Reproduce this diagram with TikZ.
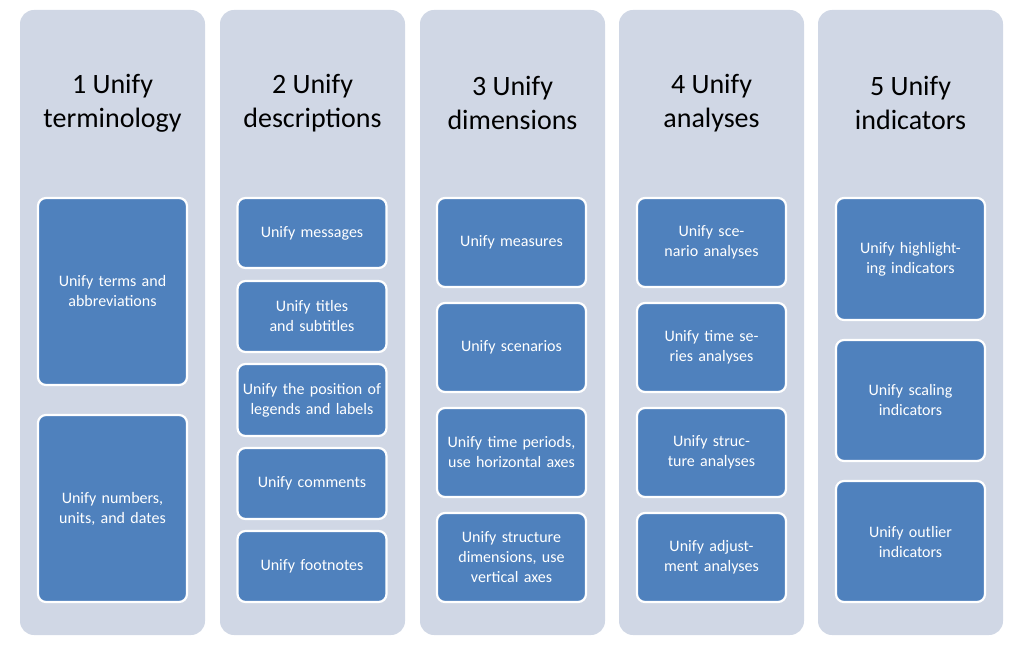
\documentclass[tikz,border=0pt]{standalone}
\usepackage{fontspec}
\setmainfont{Carlito}
\usetikzlibrary{positioning}
\definecolor{colbg}{HTML}{D0D7E5}
\definecolor{boxblue}{HTML}{4F81BD}
\tikzset{
  column/.style={fill=colbg, rounded corners=14pt, minimum width=185pt, minimum height=625pt},
  head/.style={align=center, font=\fontsize{28}{34}\selectfont, text=black},
  item/.style={draw=white, line width=2.2pt, fill=boxblue, rounded corners=8pt, text=white,
    align=center, minimum width=149pt, text width=140pt, font=\fontsize{16}{20}\selectfont}
}
\begin{document}
\begin{tikzpicture}[x=1pt,y=-1pt]
\useasboundingbox (0,0) rectangle (1017,647);
% columns
\foreach \i/\x in {1/112.5, 2/312.5, 3/512.5, 4/711.5, 5/910.5}
  \node (c\i) [column] at (\x,322.5) {};
\node (h1) [head] at (112.5,103) {1 Unify\\terminology};
\node (h2) [head] at (312.5,103) {2 Unify\\descriptions};
\node (h3) [head] at (512.5,103) {3 Unify\\dimensions};
\node (h4) [head] at (711.5,103) {4 Unify\\analyses};
\node (h5) [head] at (910.5,103) {5 Unify\\indicators};
% column 1
\node (a1) [item, minimum height=187pt] at (112.5,291.5) {Unify terms and abbreviations};
\node (a2) [item, minimum height=187pt] at (112.5,508.5) {Unify numbers, units, and dates};
% column 2
\node (b1) [item, minimum height=70pt] at (312,233) {Unify messages};
\node (b2) [item, minimum height=71pt] at (312,316.5) {Unify titles and subtitles};
\node (b3) [item, minimum height=72pt] at (312,400) {Unify the position of legends and labels};
\node (b4) [item, minimum height=71pt] at (312,483.5) {Unify comments};
\node (b5) [item, minimum height=71pt] at (312,566.5) {Unify footnotes};
% column 3
\node (d1) [item, minimum height=89pt] at (511.5,242.5) {Unify measures};
\node (d2) [item, minimum height=89pt] at (511.5,347.5) {Unify scenarios};
\node (d3) [item, minimum height=89pt] at (511.5,452.5) {Unify time periods, use horizontal axes};
\node (d4) [item, minimum height=89pt] at (511.5,557.5) {Unify structure dimensions, use vertical axes};
% column 4
\node (e1) [item, minimum height=89pt] at (711.5,242.5) {Unify scenario analyses};
\node (e2) [item, minimum height=89pt] at (711.5,347.5) {Unify time series analyses};
\node (e3) [item, minimum height=89pt] at (711.5,452.5) {Unify structure analyses};
\node (e4) [item, minimum height=89pt] at (711.5,557.5) {Unify adjustment analyses};
% column 5
\node (f1) [item, minimum height=122pt] at (910.5,259) {Unify highlighting indicators};
\node (f2) [item, minimum height=121pt] at (910.5,400.5) {Unify scaling indicators};
\node (f3) [item, minimum height=121pt] at (910.5,541.5) {Unify outlier indicators};
\end{tikzpicture}
\end{document}
